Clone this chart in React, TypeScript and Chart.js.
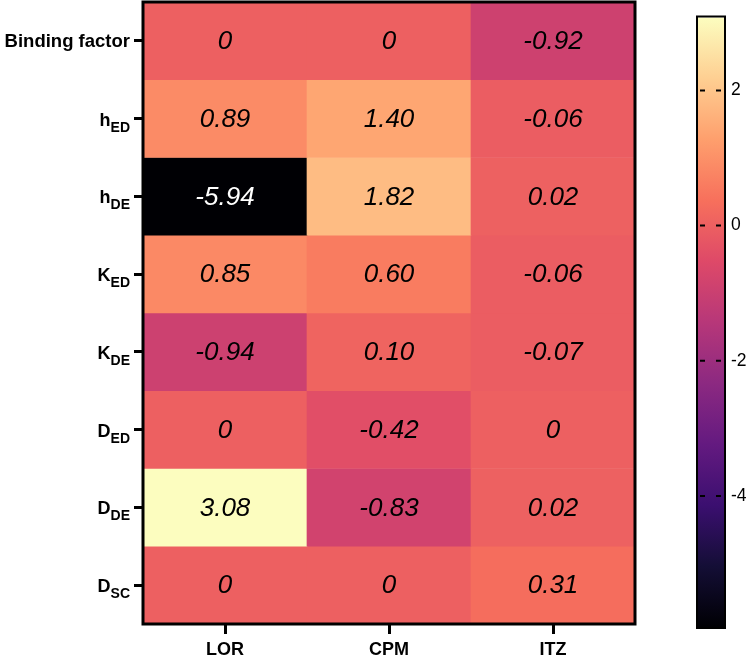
import React, { useEffect, useRef } from 'react';
import { Chart, registerables } from 'chart.js';

Chart.register(...registerables);

const columns = ['LOR', 'CPM', 'ITZ'];
const rowNames = ['Binding factor', 'h', 'h', 'K', 'K', 'D', 'D', 'D'];
const rowSubs = ['', 'ED', 'DE', 'ED', 'DE', 'ED', 'DE', 'SC'];
const lorValues = [0, 0.89, -5.94, 0.85, -0.94, 0, 3.08, 0];
const cpmValues = [0, 1.4, 1.82, 0.6, 0.1, -0.42, -0.83, 0];
const itzValues = [-0.92, -0.06, 0.02, -0.06, -0.07, 0, 0.02, 0.31];
const colorbarTicks = [2, 0, -2, -4];

const magmaStops = [
  '#000004', '#140e36', '#3b0f70', '#641a80', '#8c2981', '#b73779',
  '#de4968', '#f7705c', '#fe9f6d', '#fecf92', '#fcfdbf',
];

const FONT = '"Liberation Sans", Arial, Helvetica, sans-serif';

function hexToRgb(h: string) {
  return [parseInt(h.slice(1, 3), 16), parseInt(h.slice(3, 5), 16), parseInt(h.slice(5, 7), 16)];
}

function magma(t: number) {
  const tt = Math.max(0, Math.min(1, t));
  const pos = tt * (magmaStops.length - 1);
  const i = Math.min(Math.floor(pos), magmaStops.length - 2);
  const f = pos - i;
  const a = hexToRgb(magmaStops[i]);
  const b = hexToRgb(magmaStops[i + 1]);
  const c = a.map((v, k) => Math.round(v + (b[k] - v) * f));
  return `rgb(${c[0]},${c[1]},${c[2]})`;
}

const matrix = [lorValues, cpmValues, itzValues];
const allValues = [...lorValues, ...cpmValues, ...itzValues];
const vMin = Math.min(...allValues);
const vMax = Math.max(...allValues);

function fmt(v: number) {
  return v === 0 ? '0' : v.toFixed(2);
}

export default function App() {
  const heatRef = useRef<HTMLCanvasElement>(null);
  const barRef = useRef<HTMLCanvasElement>(null);

  useEffect(() => {
    const datasets = rowNames.map((_, r) => ({
      data: columns.map(() => [r, r + 1]),
      backgroundColor: matrix.map((col) => magma((col[r] - vMin) / (vMax - vMin))),
      grouped: false,
      barPercentage: 1,
      categoryPercentage: 1,
      borderWidth: 0,
    }));

    const decor = {
      id: 'decor',
      afterDraw(chart: any) {
        const { ctx, chartArea: ca, scales } = chart;
        const x = scales.x;
        const y = scales.y;
        ctx.save();
        ctx.textAlign = 'center';
        ctx.textBaseline = 'middle';
        ctx.font = `italic 26px ${FONT}`;
        for (let r = 0; r < rowNames.length; r++) {
          for (let c = 0; c < columns.length; c++) {
            const v = matrix[c][r];
            ctx.fillStyle = v < -4 ? '#ffffff' : '#000000';
            ctx.fillText(fmt(v), x.getPixelForValue(c), y.getPixelForValue(r + 0.5) + 1);
          }
        }
        ctx.lineWidth = 3;
        ctx.strokeStyle = '#000';
        ctx.strokeRect(ca.left, ca.top, ca.right - ca.left, ca.bottom - ca.top);
        const rx = ca.left - 13;
        ctx.textAlign = 'right';
        ctx.textBaseline = 'alphabetic';
        ctx.fillStyle = '#000';
        for (let r = 0; r < rowNames.length; r++) {
          const yy = y.getPixelForValue(r + 0.5);
          if (!rowSubs[r]) {
            ctx.font = `bold 18.5px ${FONT}`;
            ctx.fillText(rowNames[r], rx, yy + 6);
          } else {
            ctx.font = `bold 14px ${FONT}`;
            const sw = ctx.measureText(rowSubs[r]).width;
            ctx.fillText(rowSubs[r], rx, yy + 13);
            ctx.font = `bold 18px ${FONT}`;
            ctx.fillText(rowNames[r], rx - sw, yy + 7);
          }
        }
        ctx.restore();
      },
    };

    const heat = new Chart(heatRef.current!, {
      type: 'bar',
      data: { labels: columns, datasets: datasets as any },
      options: {
        animation: false,
        responsive: false,
        events: [],
        layout: { padding: { top: 2, right: 15, left: 0, bottom: 0 } },
        plugins: { legend: { display: false }, tooltip: { enabled: false } },
        scales: {
          x: {
            type: 'category',
            offset: true,
            grid: {
              display: true,
              drawOnChartArea: false,
              drawTicks: true,
              tickLength: 10,
              tickWidth: 3,
              tickColor: '#000',
              offset: false,
            },
            border: { display: false },
            ticks: { color: '#000', font: { family: FONT, size: 18, weight: 'bold' }, padding: 5 },
            afterFit: (s: any) => { s.height = 31; },
          },
          y: {
            type: 'linear',
            min: 0,
            max: rowNames.length,
            reverse: true,
            grid: {
              display: true,
              drawOnChartArea: false,
              drawTicks: true,
              tickLength: 9,
              tickWidth: 3,
              tickColor: '#000',
            },
            border: { display: false },
            ticks: { display: false },
            afterBuildTicks: (s: any) => {
              s.ticks = rowNames.map((_, i) => ({ value: i + 0.5 }));
            },
            afterFit: (s: any) => { s.width = 143; },
          },
        },
      } as any,
      plugins: [decor],
    });

    const cbDecor = {
      id: 'cbDecor',
      afterDraw(chart: any) {
        const { ctx, chartArea: ca, scales } = chart;
        const y = scales.y;
        ctx.save();
        ctx.strokeStyle = '#000';
        ctx.lineWidth = 2;
        for (const t of colorbarTicks) {
          const py = y.getPixelForValue(t);
          ctx.beginPath();
          ctx.moveTo(ca.left + 2, py);
          ctx.lineTo(ca.left + 7, py);
          ctx.moveTo(ca.right - 8, py);
          ctx.lineTo(ca.right - 3, py);
          ctx.stroke();
        }
        ctx.lineWidth = 2;
        ctx.strokeRect(ca.left - 1, ca.top - 1, ca.right - ca.left + 2, ca.bottom - ca.top + 2);
        ctx.restore();
      },
    };

    const bar = new Chart(barRef.current!, {
      type: 'bar',
      data: {
        labels: ['scale'],
        datasets: [
          {
            data: [[vMin, vMax]],
            backgroundColor: (c: any) => {
              const ca = c.chart.chartArea;
              if (!ca) return magma(0.5);
              const g = c.chart.ctx.createLinearGradient(0, ca.bottom, 0, ca.top);
              magmaStops.forEach((s, i) => g.addColorStop(i / (magmaStops.length - 1), s));
              return g;
            },
            barPercentage: 1,
            categoryPercentage: 1,
            borderWidth: 0,
          } as any,
        ],
      },
      options: {
        animation: false,
        responsive: false,
        events: [],
        layout: { padding: { top: 6, right: 0, left: 48, bottom: 28 } },
        plugins: { legend: { display: false }, tooltip: { enabled: false } },
        scales: {
          x: { display: false },
          y: {
            type: 'linear',
            position: 'right',
            min: vMin,
            max: vMax,
            grid: { display: false, drawTicks: false },
            border: { display: false },
            ticks: {
              color: '#000',
              padding: 7,
              font: { family: FONT, size: 17.5 },
              callback: (v: any) => String(v),
            },
            afterBuildTicks: (s: any) => {
              s.ticks = colorbarTicks.map((v) => ({ value: v }));
            },
            afterFit: (s: any) => { s.width = 26; },
          },
        },
      } as any,
      plugins: [cbDecor],
    });

    return () => {
      heat.destroy();
      bar.destroy();
    };
  }, []);

  return (
    <div style={{ position: 'absolute', left: 0, top: 0, width: 750, height: 655, background: '#fff' }}>
      <canvas ref={heatRef} width={650} height={655} style={{ position: 'absolute', left: 0, top: 0 }} />
      <canvas ref={barRef} width={100} height={655} style={{ position: 'absolute', left: 650, top: 0 }} />
    </div>
  );
}
